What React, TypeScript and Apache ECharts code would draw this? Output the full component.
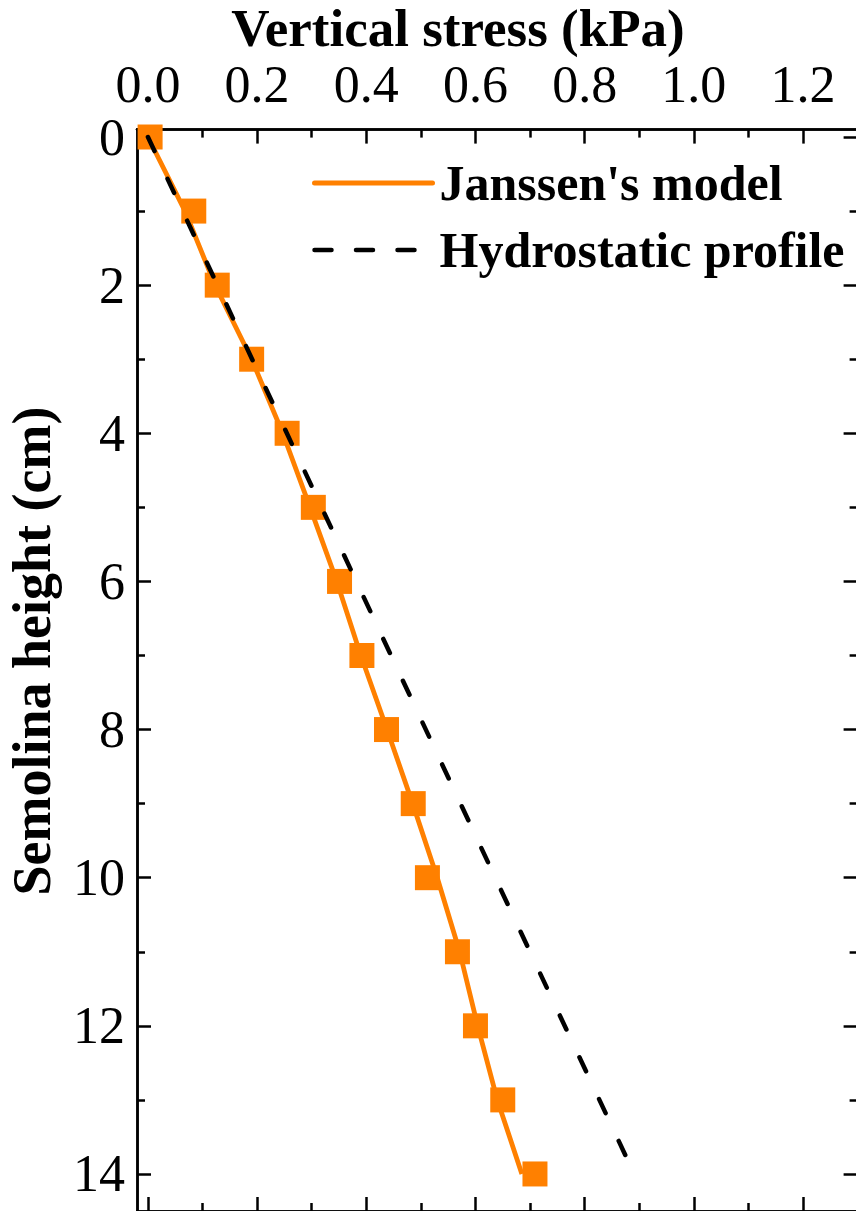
import React, { useEffect, useRef } from "react";
import * as echarts from "echarts";

// ---- data ----
const depthCm = [0, 1, 2, 3, 4, 5, 6, 7, 8, 9, 10, 11, 12, 13, 14];
const measuredStress = [0.004, 0.084, 0.127, 0.19, 0.255, 0.303, 0.351, 0.392, 0.437, 0.486, 0.512, 0.567, 0.6, 0.65, 0.709];
const janssenStress = [0, 0.068, 0.123, 0.19, 0.247, 0.297, 0.346, 0.39, 0.438, 0.485, 0.53, 0.571, 0.604, 0.64, 0.685];
const hydroDepth = [0, 13.8];
const hydroStress = [0, 0.878];

const xMajorTicks = [0, 0.2, 0.4, 0.6, 0.8, 1.0, 1.2];
const xMinorTicks = [0.1, 0.3, 0.5, 0.7, 0.9, 1.1];
const yMajorTicks = [0, 2, 4, 6, 8, 10, 12, 14];
const yMinorTicks = [1, 3, 5, 7, 9, 11, 13];

const X_MIN = -0.02;
const X_MAX = 1.3;
const Y_MIN = -0.1;
const Y_MAX = 14.5;

const SERIF = '"Liberation Serif", "Times New Roman", Times, serif';
const ORANGE = "#FF8000";

function makeX(position: string, ticks: number[], len: number, labels: boolean) {
  return {
    type: "value",
    position,
    min: X_MIN,
    max: X_MAX,
    splitLine: { show: false },
    axisLine: { show: true, onZero: false, lineStyle: { color: "#000", width: 2.5 } },
    axisTick: { show: true, inside: true, length: len, customValues: ticks, lineStyle: { color: "#000", width: 2.5 } },
    axisLabel: {
      show: labels,
      customValues: ticks,
      formatter: (v: number) => v.toFixed(1),
      fontSize: 52,
      fontFamily: SERIF,
      color: "#000",
      margin: 19,
    },
  };
}

function makeY(position: string, ticks: number[], len: number, labels: boolean) {
  return {
    type: "value",
    position,
    inverse: true,
    min: Y_MIN,
    max: Y_MAX,
    splitLine: { show: false },
    axisLine: { show: true, onZero: false, lineStyle: { color: "#000", width: 2.5 } },
    axisTick: { show: true, inside: true, length: len, customValues: ticks, lineStyle: { color: "#000", width: 2.5 } },
    axisLabel: {
      show: labels,
      customValues: ticks,
      formatter: (v: number) => String(v),
      fontSize: 52,
      fontFamily: SERIF,
      color: "#000",
      margin: 12,
    },
  };
}

export default function App() {
  const ref = useRef<HTMLDivElement>(null);

  useEffect(() => {
    if (!ref.current) return;
    const chart = echarts.init(ref.current, null, { renderer: "svg" });
    const hiddenSymbol = { color: "rgba(0,0,0,0)", opacity: 0, borderWidth: 0 };
    const option: any = {
      animation: false,
      backgroundColor: "#fff",
      grid: {
        left: 137,
        top: 129.6,
        width: 720.6,
        height: 1081.4,
        containLabel: false,
        outerBoundsMode: "none",
      },
      xAxis: [
        makeX("top", xMajorTicks, 14, true),
        makeX("top", xMinorTicks, 8, false),
        makeX("bottom", xMajorTicks, 14, false),
        makeX("bottom", xMinorTicks, 8, false),
      ],
      yAxis: [
        makeY("left", yMajorTicks, 14, true),
        makeY("left", yMinorTicks, 8, false),
        makeY("right", yMajorTicks, 14, false),
        makeY("right", yMinorTicks, 8, false),
      ],
      legend: {
        show: true,
        orient: "vertical",
        left: 312,
        top: 158,
        padding: 0,
        itemWidth: 118,
        itemHeight: 24,
        itemGap: 17,
        itemStyle: hiddenSymbol,
        textStyle: { fontSize: 50, fontWeight: "bold", fontFamily: SERIF, color: "#000", padding: [0, 0, 0, 2] },
        data: [
          {
            name: "Janssen's model",
            itemStyle: hiddenSymbol,
            lineStyle: { type: "solid", width: 5, color: ORANGE, cap: "round" },
          },
          {
            name: "Hydrostatic profile",
            itemStyle: hiddenSymbol,
            lineStyle: { type: [17, 24.5], cap: "round", width: 4.5, color: "#000" },
          },
        ],
      },
      series: [
        {
          name: "Measured",
          type: "scatter",
          xAxisIndex: 0,
          yAxisIndex: 0,
          symbol: "rect",
          symbolSize: 25,
          itemStyle: { color: ORANGE, opacity: 1 },
          data: depthCm.map((d, i) => [measuredStress[i], d]),
          z: 2,
        },
        {
          name: "Janssen's model",
          type: "line",
          xAxisIndex: 0,
          yAxisIndex: 0,
          symbol: "none",
          showSymbol: false,
          itemStyle: { color: ORANGE },
          lineStyle: { color: ORANGE, width: 4.8 },
          data: depthCm.map((d, i) => [janssenStress[i], d]),
          z: 3,
        },
        {
          name: "Hydrostatic profile",
          type: "line",
          xAxisIndex: 0,
          yAxisIndex: 0,
          symbol: "none",
          showSymbol: false,
          itemStyle: { color: "#000" },
          lineStyle: { color: "#000", width: 4.5, type: [15.5, 30.7], cap: "round" },
          data: hydroDepth.map((d, i) => [hydroStress[i], d]),
          z: 4,
        },
      ],
      graphic: [
        {
          type: "text",
          x: 458,
          y: 28,
          style: {
            text: "Vertical stress (kPa)",
            align: "center",
            verticalAlign: "middle",
            font: `bold 53px ${SERIF}`,
            fill: "#000",
          },
        },
        {
          type: "text",
          x: 32,
          y: 651,
          rotation: Math.PI / 2,
          style: {
            text: "Semolina height (cm)",
            align: "center",
            verticalAlign: "middle",
            font: `bold 54px ${SERIF}`,
            fill: "#000",
          },
        },
      ],
    };
    chart.setOption(option);
    return () => chart.dispose();
  }, []);

  return (
    <div
      style={{
        position: "fixed",
        left: 0,
        top: 0,
        width: 856,
        height: 1211,
        overflow: "hidden",
        background: "#fff",
      }}
    >
      <div ref={ref} style={{ width: 880, height: 1240 }} />
    </div>
  );
}
